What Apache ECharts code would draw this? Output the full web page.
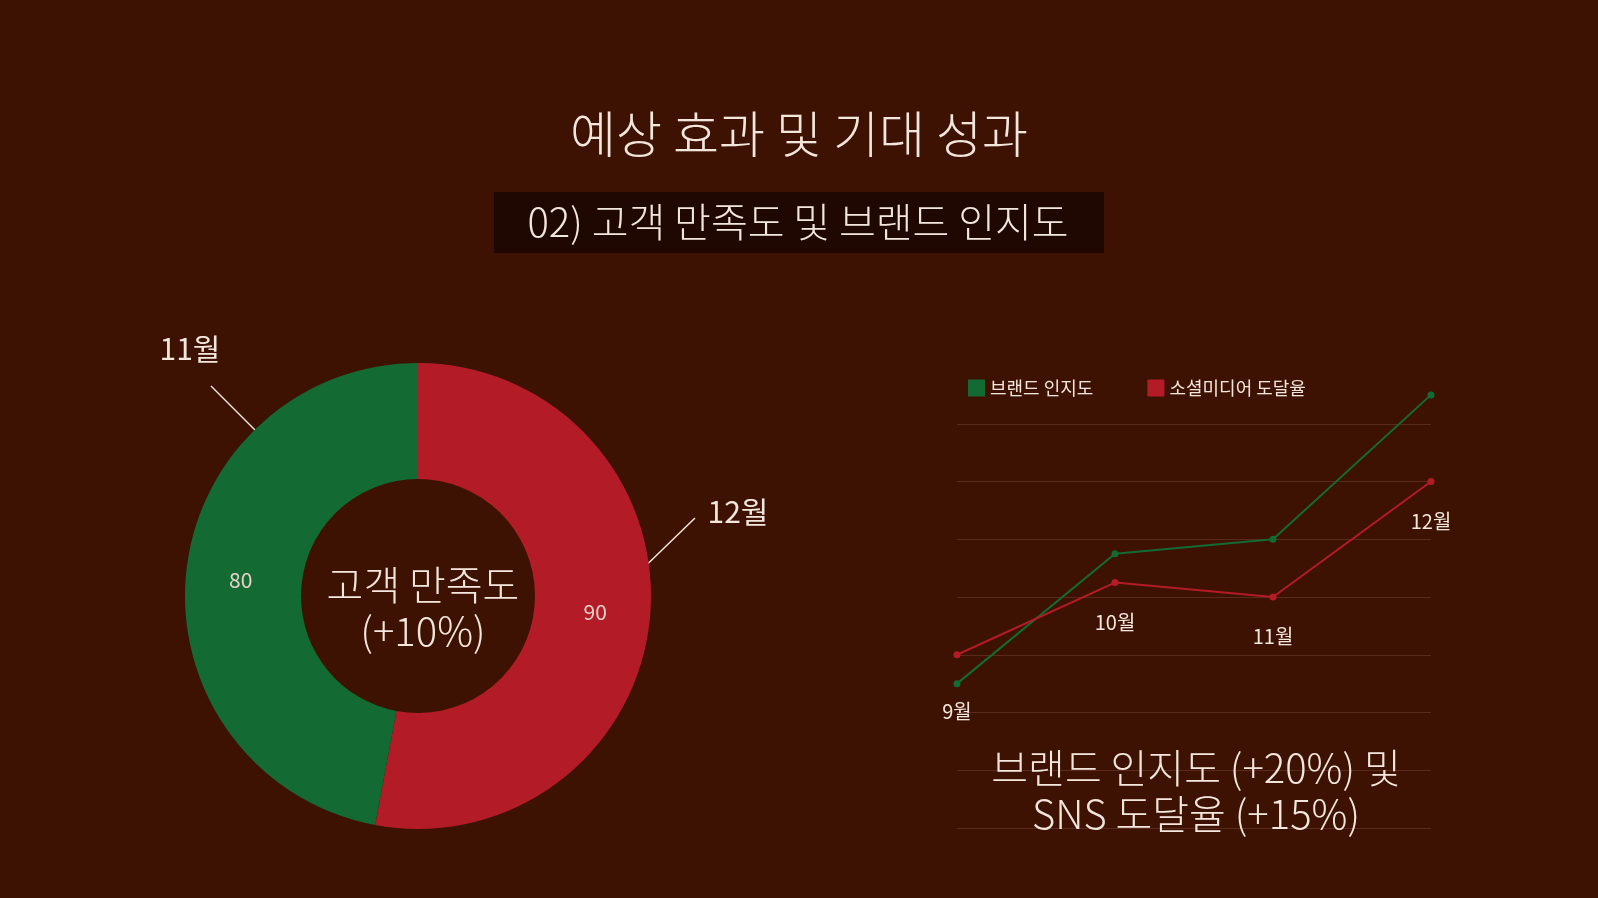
<!DOCTYPE html>
<html><head><meta charset="utf-8">
<script src="https://cdn.jsdelivr.net/npm/echarts@6/dist/echarts.min.js"></script>
<style>html,body{margin:0;background:#3d1203;}#c{width:1598px;height:898px;}</style>
</head><body><div id="c"></div>
<script>
var pieNames = ["12월", "11월"];
var pieValues = [90, 80];
var months = ["9월", "10월", "11월", "12월"];
var brand = [25, 47.5, 50, 75];
var social = [30, 42.5, 40, 60];
var labelOnBrand = [true, false, false, false];

var font = "Noto Sans CJK KR";
var txt = "#f3e6dc";
var green = "#136b33", red = "#b31c26";

var chart = echarts.init(document.getElementById("c"));

function pts(vals, useMask) {
    var out = [];
    for (var i = 0; i < vals.length; i++) {
        var show = useMask ? labelOnBrand[i] : !labelOnBrand[i];
        out.push({value: vals[i], label: {show: show}});
    }
    return out;
}

// 도넛 바깥 라벨 (지시선)
function callout(text, tx, ty, x1, y1, x2, y2) {
    return [
        {type: "line", shape: {x1: x1, y1: y1, x2: x2, y2: y2}, style: {stroke: txt, lineWidth: 1.5}},
        {type: "text", x: tx, y: ty, style: {text: text, fill: txt, font: "30px '" + font + "'",
            textAlign: "center", textVerticalAlign: "middle"}}
    ];
}

chart.setOption({
    backgroundColor: "#3d1203",
    textStyle: {fontFamily: font},
    title: [
        {text: "예상 효과 및 기대 성과", left: "center", top: 104,
            textStyle: {color: txt, fontSize: 50, fontWeight: 300, fontFamily: font}},
        {text: "고객 만족도\n(+10%)", left: 418, top: 557, textAlign: "center",
            textStyle: {color: txt, fontSize: 40, fontWeight: 300, lineHeight: 46, fontFamily: font}},
        {text: "브랜드 인지도 (+20%) 및\nSNS 도달율 (+15%)", left: 1191, top: 740, textAlign: "center",
            textStyle: {color: txt, fontSize: 40, fontWeight: 300, lineHeight: 46, fontFamily: font}}
    ],
    graphic: [
        {type: "rect", shape: {x: 494, y: 192, width: 610, height: 61}, style: {fill: "#1f0702"}},
        {type: "text", x: 798, y: 222, style: {text: "02) 고객 만족도 및 브랜드 인지도", fill: txt,
            font: "300 40px '" + font + "'", textAlign: "center", textVerticalAlign: "middle"}}
    ].concat(callout("11월", 190, 349, 211, 386, 276, 451))
     .concat(callout("12월", 738, 512, 695, 518, 629, 582)),
    legend: {left: 963, top: 374, itemWidth: 17, itemHeight: 17, itemGap: 54, icon: "rect",
        data: ["브랜드 인지도", "소셜미디어 도달율"],
        textStyle: {color: txt, fontSize: 18, fontFamily: font}},
    grid: {left: 957, right: 167, top: 366, bottom: 70},
    xAxis: {type: "category", data: months, boundaryGap: false, show: false},
    yAxis: {type: "value", min: 0, max: 80, interval: 10,
        axisLabel: {show: false}, axisLine: {show: false}, axisTick: {show: false},
        splitLine: {showMaxLine: false, lineStyle: {color: "#5a2a1c", width: 1}}},
    series: [
        {type: "pie", radius: [117, 233], center: [418, 596], startAngle: 90,
            data: pieNames.map(function (n, i) { return {name: n, value: pieValues[i]}; }),
            color: [red, green], silent: true,
            label: {position: "inside", formatter: "{c}", color: "#e8d2c8", fontSize: 21, fontFamily: font},
            labelLine: {show: false}},
        {name: "브랜드 인지도", type: "line", data: pts(brand, true), color: green,
            symbol: "circle", symbolSize: 7, lineStyle: {width: 2},
            label: {position: "bottom", distance: 14, formatter: function (p) { return months[p.dataIndex]; },
                color: txt, fontSize: 20, fontFamily: font}},
        {name: "소셜미디어 도달율", type: "line", data: pts(social, false), color: red,
            symbol: "circle", symbolSize: 7, lineStyle: {width: 2},
            label: {position: "bottom", distance: 26, formatter: function (p) { return months[p.dataIndex]; },
                color: txt, fontSize: 20, fontFamily: font}}
    ]
});
</script></body></html>
